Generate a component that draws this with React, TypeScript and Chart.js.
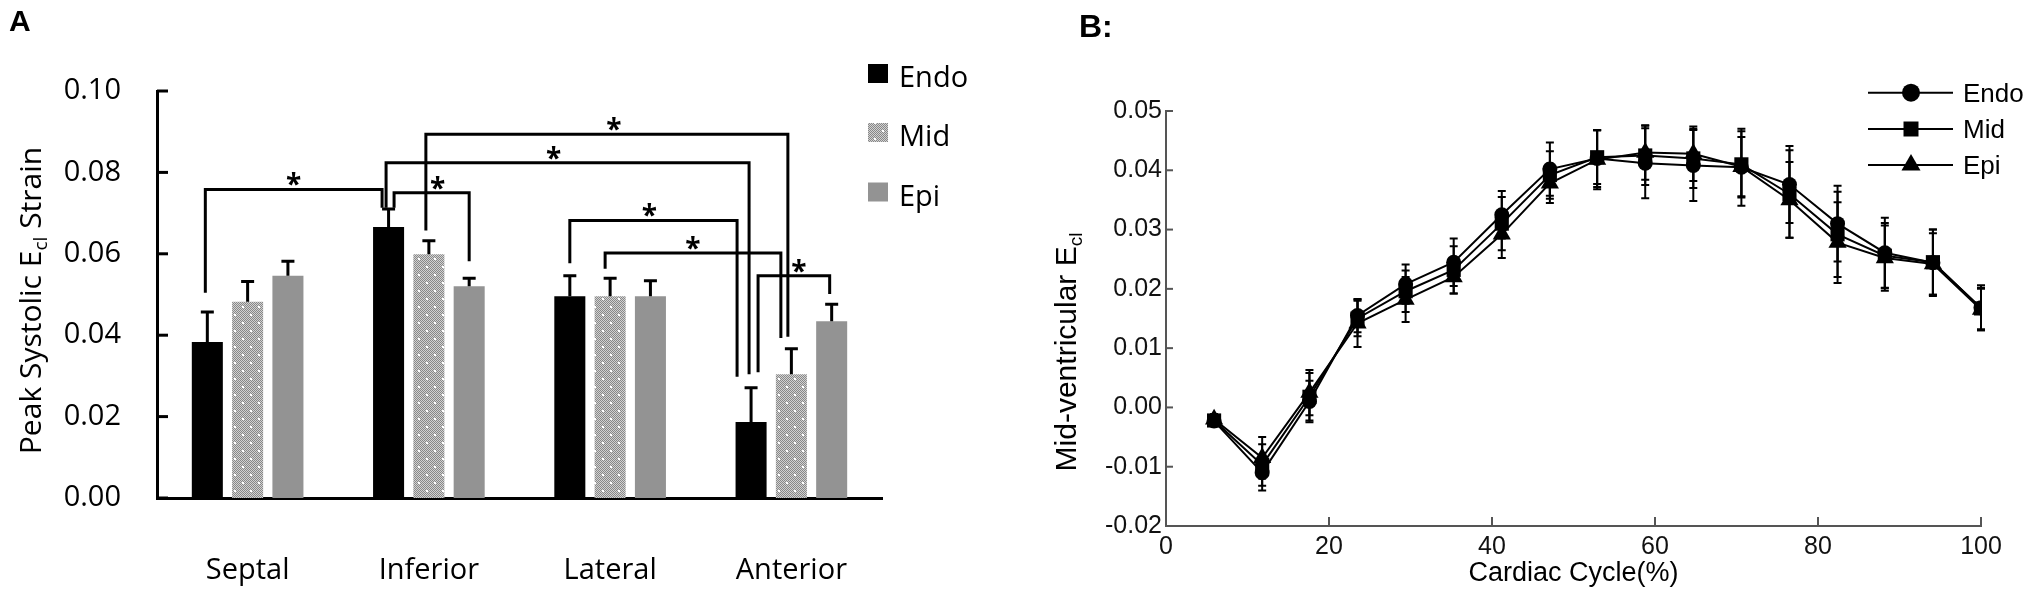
import React, { useEffect, useRef } from "react";
import { Chart, registerables } from "chart.js";

Chart.register(...registerables);

// ---------------- Panel A data ----------------
const regions = ["Septal", "Inferior", "Lateral", "Anterior"];
const layers = ["Endo", "Mid", "Epi"];
const peakEndo = [0.0383, 0.0666, 0.0496, 0.0187];
const peakMid = [0.0482, 0.0599, 0.0496, 0.0304];
const peakEpi = [0.0546, 0.052, 0.0496, 0.0434];
const sdPeakEndo = [0.0074, 0.0044, 0.005, 0.0084];
const sdPeakMid = [0.005, 0.0033, 0.0044, 0.0063];
const sdPeakEpi = [0.0036, 0.002, 0.0038, 0.0042];
const peakTicks = [0, 0.02, 0.04, 0.06, 0.08, 0.1];

// significance brackets: [regionIndex, layerIndex]
const sigFrom = [[0, 0], [1, 0], [1, 0], [1, 1], [2, 0], [2, 1], [3, 0]];
const sigTo = [[1, 0], [3, 0], [1, 2], [3, 1], [3, 0], [3, 1], [3, 2]];
const sigLevel = [0.0758, 0.0824, 0.075, 0.0894, 0.0682, 0.0602, 0.0546];
const sigFromEnd = [0.0504, 0.0713, 0.0713, 0.0657, 0.0577, 0.0563, 0.0309];
const sigToEnd = [0.0713, 0.0304, 0.0582, 0.0396, 0.0298, 0.0393, 0.0501];
const sigMark = ["*", "*", "*", "*", "*", "*", "*"];

// ---------------- Panel B data ----------------
const cycle = [5.9, 11.8, 17.6, 23.5, 29.4, 35.3, 41.2, 47.1, 52.9, 58.8, 64.7, 70.6, 76.5, 82.4, 88.2, 94.1, 100];
const endoCurve = [-0.0023, -0.011, 0.001, 0.0155, 0.0208, 0.0245, 0.0325, 0.0402, 0.042, 0.0412, 0.0408, 0.0405, 0.0376, 0.031, 0.0261, 0.0244, 0.0168];
const midCurve = [-0.0022, -0.0097, 0.0018, 0.015, 0.0196, 0.0232, 0.031, 0.0392, 0.0422, 0.0425, 0.042, 0.041, 0.036, 0.0292, 0.0256, 0.0245, 0.0167];
const epiCurve = [-0.002, -0.0085, 0.0025, 0.0142, 0.0182, 0.022, 0.0292, 0.0378, 0.0418, 0.043, 0.0428, 0.0406, 0.035, 0.0278, 0.0252, 0.0242, 0.0165];
const endoSD = [0.0008, 0.003, 0.0035, 0.0028, 0.0033, 0.004, 0.004, 0.0045, 0.0048, 0.0059, 0.006, 0.0065, 0.0065, 0.0064, 0.0059, 0.0056, 0.0038];
const midSD = [0.0007, 0.0035, 0.004, 0.003, 0.0035, 0.004, 0.0045, 0.004, 0.0045, 0.005, 0.005, 0.0056, 0.0074, 0.0072, 0.0055, 0.0055, 0.0035];
const epiSD = [0.0009, 0.0035, 0.0038, 0.004, 0.0038, 0.0028, 0.004, 0.0033, 0.005, 0.0046, 0.0046, 0.005, 0.0064, 0.0068, 0.0055, 0.0052, 0.0035];
const cycleTicks = [0, 20, 40, 60, 80, 100];
const strainTicks = [-0.02, -0.01, 0, 0.01, 0.02, 0.03, 0.04, 0.05];

// ---------------- styles ----------------
const OPEN = "'Open Sans', sans-serif";
const ARIAL = "'Liberation Sans', Arial, sans-serif";
const A_LEG_OFFSETS = [[-2, -6.5], [-2.5, -2], [5.5, 0], [-3, -3.5], [0, -14], [-5, -10.5], [7, -2]];
const A_STAR_DX = [0, -14, 6, 7, -4, 0, 5];

function makeDotPattern(): any {
  const c = document.createElement("canvas");
  c.width = 16;
  c.height = 16;
  const g = c.getContext("2d");
  if (!g) return "#b0b0b0";
  for (let y = 0; y < 16; y++) {
    for (let x = 0; x < 16; x++) {
      g.fillStyle = (x + y) % 2 ? "#d2d2d2" : "#888888";
      g.fillRect(x, y, 1, 1);
    }
  }
  g.fillStyle = "#ffffff";
  g.fillRect(2, 2, 2, 2);
  g.fillRect(10, 10, 2, 2);
  return g.createPattern(c, "repeat") || "#b0b0b0";
}

function drawVTitle(ctx: any, cx: number, cy: number, pre: string, sub: string, post: string, size: number, family: string) {
  const subSize = Math.round(size * 0.62);
  ctx.save();
  ctx.translate(cx, cy);
  ctx.rotate(-Math.PI / 2);
  ctx.fillStyle = "#000";
  ctx.textAlign = "left";
  ctx.textBaseline = "alphabetic";
  ctx.font = `${size}px ${family}`;
  const w1 = ctx.measureText(pre).width;
  const w3 = ctx.measureText(post).width;
  ctx.font = `${subSize}px ${family}`;
  const w2 = ctx.measureText(sub).width;
  const total = w1 + w2 + w3;
  const base = size * 0.36;
  let x = -total / 2;
  ctx.font = `${size}px ${family}`;
  ctx.fillText(pre, x, base);
  x += w1;
  ctx.font = `${subSize}px ${family}`;
  ctx.fillText(sub, x, base + size * 0.2);
  x += w2;
  ctx.font = `${size}px ${family}`;
  ctx.fillText(post, x, base);
  ctx.restore();
}

const panelAPlugin = {
  id: "panelA",
  afterDatasetsDraw(chart: any) {
    const ctx = chart.ctx;
    const ys = chart.scales.y;
    const means = [peakEndo, peakMid, peakEpi];
    const sds = [sdPeakEndo, sdPeakMid, sdPeakEpi];
    ctx.save();
    ctx.strokeStyle = "#000";
    ctx.fillStyle = "#000";
    ctx.lineWidth = 3;
    for (let d = 0; d < 3; d++) {
      const meta = chart.getDatasetMeta(d);
      meta.data.forEach((bar: any, i: number) => {
        const top = ys.getPixelForValue(means[d][i] + sds[d][i]);
        ctx.beginPath();
        ctx.moveTo(bar.x, bar.y);
        ctx.lineTo(bar.x, top);
        ctx.moveTo(bar.x - 6.5, top);
        ctx.lineTo(bar.x + 6.5, top);
        ctx.stroke();
      });
    }
    sigFrom.forEach((f, k) => {
      const t = sigTo[k];
      const x1 = chart.getDatasetMeta(f[1]).data[f[0]].x + A_LEG_OFFSETS[k][0];
      const x2 = chart.getDatasetMeta(t[1]).data[t[0]].x + A_LEG_OFFSETS[k][1];
      const yl = ys.getPixelForValue(sigLevel[k]);
      const y1 = ys.getPixelForValue(sigFromEnd[k]);
      const y2 = ys.getPixelForValue(sigToEnd[k]);
      ctx.beginPath();
      ctx.moveTo(x1, y1);
      ctx.lineTo(x1, yl);
      ctx.lineTo(x2, yl);
      ctx.lineTo(x2, y2);
      ctx.stroke();
      ctx.font = `bold 28px ${OPEN}`;
      ctx.textAlign = "center";
      ctx.textBaseline = "alphabetic";
      ctx.fillText(sigMark[k], (x1 + x2) / 2 + A_STAR_DX[k], yl + 5);
    });
    ctx.restore();
  },
  afterDraw(chart: any) {
    const ctx = chart.ctx;
    const ys = chart.scales.y;
    const area = chart.chartArea;
    ctx.save();
    ctx.strokeStyle = "#000";
    ctx.lineWidth = 3;
    peakTicks.forEach((v) => {
      const py = ys.getPixelForValue(v);
      ctx.beginPath();
      ctx.moveTo(area.left, py);
      ctx.lineTo(area.left + 11, py);
      ctx.stroke();
    });
    drawVTitle(ctx, 30, (area.top + area.bottom) / 2 + 6, "Peak Systolic E", "cl", " Strain", 30, OPEN);
    const swatches = ["#000000", chart.data.datasets[1].backgroundColor, "#939393"];
    const rows = [73.5, 132.5, 192];
    layers.forEach((name, i) => {
      ctx.fillStyle = swatches[i];
      ctx.fillRect(868, rows[i] - 9.5, 20, 19);
      ctx.fillStyle = "#000";
      ctx.font = `29px ${OPEN}`;
      ctx.textAlign = "left";
      ctx.textBaseline = "alphabetic";
      ctx.fillText(name, 899, rows[i] + 13.5);
    });
    ctx.font = `bold 30px ${ARIAL}`;
    ctx.fillText("A", 9, 31);
    ctx.restore();
  },
};

const markerStyles = ["circle", "rect", "triangle"];

function drawMarker(ctx: any, style: string, x: number, y: number, r: number) {
  ctx.beginPath();
  if (style === "circle") {
    ctx.arc(x, y, r, 0, Math.PI * 2);
  } else if (style === "rect") {
    const s = Math.SQRT1_2 * r;
    ctx.rect(x - s, y - s, 2 * s, 2 * s);
  } else {
    ctx.moveTo(x, y - r);
    ctx.lineTo(x + r * Math.sin((2 * Math.PI) / 3), y + r / 2);
    ctx.lineTo(x - r * Math.sin((2 * Math.PI) / 3), y + r / 2);
    ctx.closePath();
  }
  ctx.fill();
}

const panelBPlugin = {
  id: "panelB",
  beforeDatasetsDraw(chart: any) {
    const ctx = chart.ctx;
    const xs = chart.scales.x;
    const ys = chart.scales.y;
    const curves = [endoCurve, midCurve, epiCurve];
    const sds = [endoSD, midSD, epiSD];
    ctx.save();
    ctx.strokeStyle = "#000";
    ctx.lineWidth = 2;
    for (let d = 0; d < 3; d++) {
      cycle.forEach((c, i) => {
        const px = xs.getPixelForValue(c);
        const pt = ys.getPixelForValue(curves[d][i] + sds[d][i]);
        const pb = ys.getPixelForValue(curves[d][i] - sds[d][i]);
        ctx.beginPath();
        ctx.moveTo(px, pt);
        ctx.lineTo(px, pb);
        ctx.moveTo(px - 4, pt);
        ctx.lineTo(px + 4, pt);
        ctx.moveTo(px - 4, pb);
        ctx.lineTo(px + 4, pb);
        ctx.stroke();
      });
    }
    ctx.restore();
  },
  afterDraw(chart: any) {
    const ctx = chart.ctx;
    const xs = chart.scales.x;
    const ys = chart.scales.y;
    const area = chart.chartArea;
    ctx.save();
    ctx.strokeStyle = "#555";
    ctx.lineWidth = 2;
    strainTicks.forEach((v) => {
      const py = ys.getPixelForValue(v);
      ctx.beginPath();
      ctx.moveTo(area.left, py);
      ctx.lineTo(area.left + 7, py);
      ctx.stroke();
    });
    cycleTicks.forEach((v) => {
      const px = xs.getPixelForValue(v);
      ctx.beginPath();
      ctx.moveTo(px, area.bottom);
      ctx.lineTo(px, area.bottom - 9);
      ctx.stroke();
    });
    drawVTitle(ctx, 65, 352, "Mid-ventricular E", "cl", "", 30, ARIAL);
    ctx.fillStyle = "#000";
    ctx.font = `27px ${ARIAL}`;
    ctx.textAlign = "center";
    ctx.textBaseline = "middle";
    ctx.fillText("Cardiac Cycle(%)", (area.left + area.right) / 2, 574);
    const rows = [92.7, 129, 165];
    const radii = [9, 10.6, 11];
    layers.forEach((name, i) => {
      ctx.strokeStyle = "#000";
      ctx.lineWidth = 2;
      ctx.beginPath();
      ctx.moveTo(868, rows[i]);
      ctx.lineTo(953, rows[i]);
      ctx.stroke();
      ctx.fillStyle = "#000";
      drawMarker(ctx, markerStyles[i], 911, rows[i], radii[i]);
      ctx.font = `26px ${ARIAL}`;
      ctx.textAlign = "left";
      ctx.textBaseline = "alphabetic";
      ctx.fillText(name, 963, rows[i] + 9.3);
    });
    ctx.font = `bold 32px ${ARIAL}`;
    ctx.textAlign = "left";
    ctx.fillText("B:", 79, 37);
    ctx.restore();
  },
};

export default function App() {
  const aRef = useRef<HTMLCanvasElement | null>(null);
  const bRef = useRef<HTMLCanvasElement | null>(null);

  useEffect(() => {
    if (!aRef.current || !bRef.current) return;
    const pattern = makeDotPattern();
    const chartA = new Chart(aRef.current, {
      type: "bar",
      data: {
        labels: regions,
        datasets: [
          { label: layers[0], data: peakEndo, backgroundColor: "#000000", borderWidth: 0 },
          { label: layers[1], data: peakMid, backgroundColor: pattern, borderWidth: 0 },
          { label: layers[2], data: peakEpi, backgroundColor: "#939393", borderWidth: 0 },
        ],
      },
      options: {
        animation: false,
        responsive: false,
        maintainAspectRatio: false,
        devicePixelRatio: 1,
        layout: { padding: { left: 0, top: 91, right: 118, bottom: 0 } },
        datasets: { bar: { categoryPercentage: 0.667, barPercentage: 0.77 } },
        plugins: { legend: { display: false }, tooltip: { enabled: false }, title: { display: false } },
        scales: {
          x: {
            grid: { display: false, drawTicks: false },
            border: { display: true, color: "#000", width: 3 },
            ticks: { color: "#000", font: { family: OPEN, size: 29 }, padding: 55 },
            afterFit: (s: any) => { s.height = 96; },
          },
          y: {
            min: 0,
            max: 0.1,
            afterBuildTicks: (s: any) => { s.ticks = peakTicks.map((v) => ({ value: v })); },
            grid: { display: false, drawTicks: false },
            border: { display: true, color: "#000", width: 3 },
            ticks: {
              color: "#000",
              font: { family: OPEN, size: 29 },
              padding: 36,
              callback: (v: any) => Number(v).toFixed(2),
            },
            afterFit: (s: any) => { s.width = 157; },
          },
        },
      } as any,
      plugins: [panelAPlugin],
    });

    const mk = (vals: number[]) => cycle.map((c, i) => ({ x: c, y: vals[i] }));
    const chartB = new Chart(bRef.current, {
      type: "scatter",
      data: {
        datasets: [
          { label: layers[0], data: mk(endoCurve), showLine: true, borderColor: "#000", borderWidth: 2, backgroundColor: "#000", pointStyle: "circle", pointRadius: 7.5, pointBorderWidth: 0 },
          { label: layers[1], data: mk(midCurve), showLine: true, borderColor: "#000", borderWidth: 2, backgroundColor: "#000", pointStyle: "rect", pointRadius: 10, pointBorderWidth: 0 },
          { label: layers[2], data: mk(epiCurve), showLine: true, borderColor: "#000", borderWidth: 2, backgroundColor: "#000", pointStyle: "triangle", pointRadius: 10.5, pointBorderWidth: 0 },
        ],
      },
      options: {
        animation: false,
        responsive: false,
        maintainAspectRatio: false,
        devicePixelRatio: 1,
        layout: { padding: { left: 0, top: 111, right: 59, bottom: 0 } },
        plugins: { legend: { display: false }, tooltip: { enabled: false }, title: { display: false } },
        scales: {
          x: {
            type: "linear",
            min: 0,
            max: 100,
            afterBuildTicks: (s: any) => { s.ticks = cycleTicks.map((v) => ({ value: v })); },
            grid: { display: false, drawTicks: false },
            border: { display: true, color: "#555", width: 2 },
            ticks: { color: "#111", font: { family: ARIAL, size: 25 }, padding: 6, callback: (v: any) => String(v) },
            afterFit: (s: any) => { s.height = 68; },
          },
          y: {
            min: -0.02,
            max: 0.05,
            afterBuildTicks: (s: any) => { s.ticks = strainTicks.map((v) => ({ value: v })); },
            grid: { display: false, drawTicks: false },
            border: { display: true, color: "#555", width: 2 },
            ticks: {
              color: "#111",
              font: { family: ARIAL, size: 25 },
              padding: 4,
              callback: (v: any) => (Math.abs(Number(v)) < 1e-9 ? "0.00" : Number(v).toFixed(2)),
            },
            afterFit: (s: any) => { s.width = 166; },
          },
        },
      } as any,
      plugins: [panelBPlugin],
    });

    let alive = true;
    const fonts: any = (document as any).fonts;
    if (fonts && fonts.load) {
      Promise.all([
        fonts.load(`29px ${OPEN}`),
        fonts.load(`bold 28px ${OPEN}`),
        fonts.load(`25px ${ARIAL}`),
        fonts.load(`bold 27px ${ARIAL}`),
      ])
        .then(() => {
          if (alive) {
            chartA.update();
            chartB.update();
          }
        })
        .catch(() => {});
    }
    return () => {
      alive = false;
      chartA.destroy();
      chartB.destroy();
    };
  }, []);

  return (
    <div style={{ position: "absolute", left: 0, top: 0, width: 2040, height: 594, background: "#fff", overflow: "hidden" }}>
      <canvas ref={aRef} width={1000} height={594} style={{ position: "absolute", left: 0, top: 0, width: 1000, height: 594 }} />
      <canvas ref={bRef} width={1040} height={594} style={{ position: "absolute", left: 1000, top: 0, width: 1040, height: 594 }} />
    </div>
  );
}
